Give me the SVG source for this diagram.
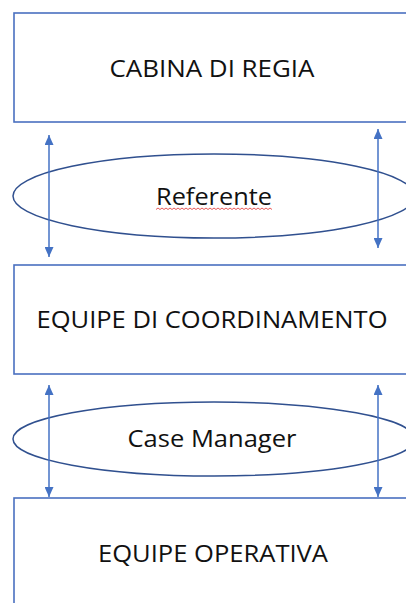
<svg xmlns="http://www.w3.org/2000/svg" width="406" height="603" viewBox="0 0 406 603">
<style>
.box{fill:#fff;stroke:#4a70c0;stroke-width:1.6}
.ell{fill:#fff;stroke:#30508f;stroke-width:1.5}
.arr{stroke:#4472c4;stroke-width:1.5;fill:none;marker-start:url(#ah);marker-end:url(#ah)}
.t{font-family:"Open Sans","Liberation Sans",sans-serif;font-size:24px;fill:#111;text-anchor:middle}
</style>
<defs>
<marker id="ah" viewBox="0 0 10 10" refX="10" refY="5" markerWidth="10" markerHeight="9" orient="auto-start-reverse" markerUnits="userSpaceOnUse" preserveAspectRatio="none">
<path d="M0,0 L10,5 L0,10 z" fill="#4472c4"/>
</marker>
</defs>
<rect width="406" height="603" fill="#fff"/>
<g id="cabina">
<rect class="box" x="14" y="13" width="420" height="109"/>
<text class="t" x="212" y="77" textLength="205" lengthAdjust="spacingAndGlyphs">CABINA DI REGIA</text>
</g>
<g id="referente">
<ellipse class="ell" cx="214" cy="196" rx="201" ry="42"/>
<text class="t" x="214" y="205" textLength="116" lengthAdjust="spacingAndGlyphs">Referente</text>
<path d="M156,209.5 l2,-1.5 l2,1.5 l2,-1.5 l2,1.5 l2,-1.5 l2,1.5 l2,-1.5 l2,1.5 l2,-1.5 l2,1.5 l2,-1.5 l2,1.5 l2,-1.5 l2,1.5 l2,-1.5 l2,1.5 l2,-1.5 l2,1.5 l2,-1.5 l2,1.5 l2,-1.5 l2,1.5 l2,-1.5 l2,1.5 l2,-1.5 l2,1.5 l2,-1.5 l2,1.5 l2,-1.5 l2,1.5 l2,-1.5 l2,1.5 l2,-1.5 l2,1.5 l2,-1.5 l2,1.5 l2,-1.5 l2,1.5 l2,-1.5 l2,1.5 l2,-1.5 l2,1.5 l2,-1.5 l2,1.5 l2,-1.5 l2,1.5 l2,-1.5 l2,1.5 l2,-1.5 l2,1.5 l2,-1.5 l2,1.5 l2,-1.5 l2,1.5 l2,-1.5 l2,1.5 l2,-1.5 l2,1.5" fill="none" stroke="#e03030" stroke-width="0.8"/>
</g>
<g id="coordinamento">
<rect class="box" x="14" y="265" width="420" height="109"/>
<text class="t" x="212" y="328" textLength="351" lengthAdjust="spacingAndGlyphs">EQUIPE DI COORDINAMENTO</text>
</g>
<g id="casemanager">
<ellipse class="ell" cx="214" cy="439" rx="201" ry="37"/>
<text class="t" x="212" y="447" textLength="169" lengthAdjust="spacingAndGlyphs">Case Manager</text>
</g>
<g id="operativa">
<rect class="box" x="14" y="498" width="420" height="120"/>
<text class="t" x="213" y="562" textLength="230" lengthAdjust="spacingAndGlyphs">EQUIPE OPERATIVA</text>
</g>
<g id="connectors">
<line class="arr" x1="49" y1="135" x2="49" y2="257"/>
<line class="arr" x1="378" y1="129" x2="378" y2="248"/>
<line class="arr" x1="49" y1="385" x2="49" y2="497"/>
<line class="arr" x1="378" y1="385" x2="378" y2="497"/>
</g>
</svg>
